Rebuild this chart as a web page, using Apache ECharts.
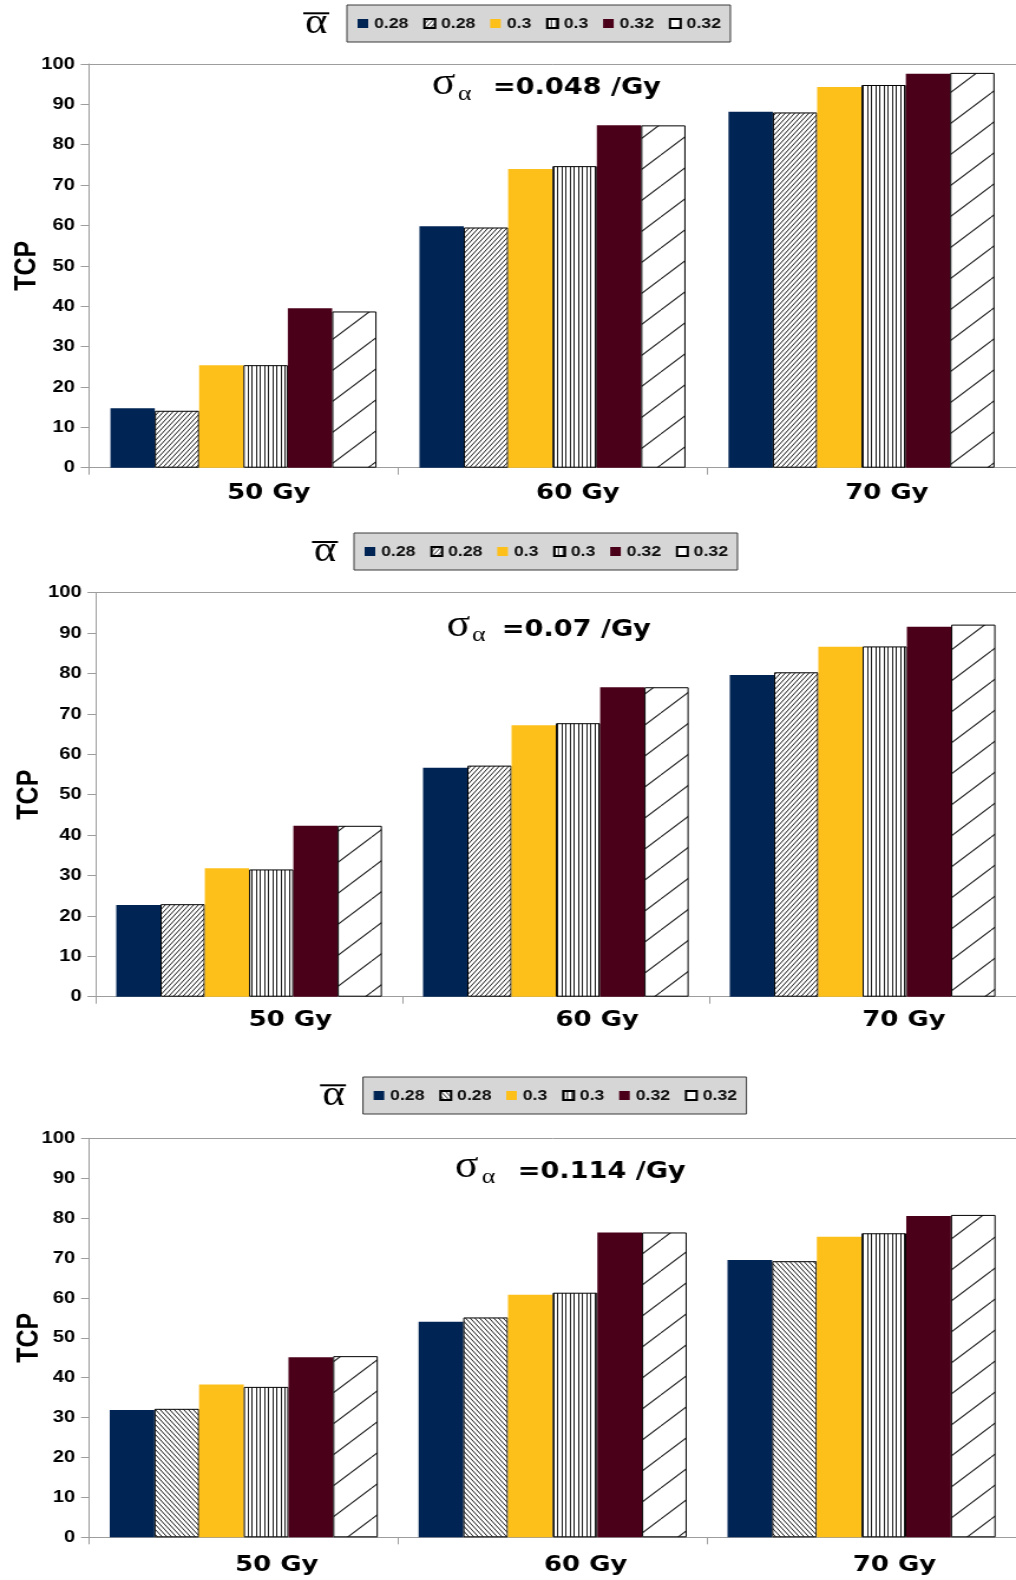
<!DOCTYPE html>
<html>
<head>
<meta charset="utf-8">
<script src="https://cdn.jsdelivr.net/npm/echarts@6/dist/echarts.min.js"></script>
<style>
  html, body { margin: 0; padding: 0; background: #fff; overflow: hidden; }
  /* The figure is drawn at a narrower width and widened horizontally, giving the wide lettering of the original plot. */
  #chart { width: 861px; height: 1580px; transform: scaleX(1.18); transform-origin: 0 0; }
</style>
</head>
<body>
<div id="chart"></div>
<script>
// ---- data ----
const doses = ['50 Gy', '60 Gy', '70 Gy'];
const alphaLabels = ['0.28', '0.28', '0.3', '0.3', '0.32', '0.32'];
const sigmaLabels = ['=0.048 /Gy', '=0.07 /Gy', '=0.114 /Gy'];
const yMin = 0, yMax = 100, yStep = 10;

// TCP (%) per mean-alpha variant (rows) and dose (columns)
const tcpSigma048 = [
  [14.7, 59.8, 88.2],
  [14.1, 59.5, 88.0],
  [25.4, 74.0, 94.3],
  [25.4, 74.7, 94.8],
  [39.5, 84.8, 97.6],
  [38.7, 84.8, 97.8]
];
const tcpSigma070 = [
  [22.7, 56.7, 79.6],
  [22.9, 57.2, 80.3],
  [31.8, 67.2, 86.6],
  [31.5, 67.7, 86.7],
  [42.3, 76.6, 91.6],
  [42.3, 76.6, 92.1]
];
const tcpSigma114 = [
  [31.9, 54.0, 69.5],
  [32.2, 55.1, 69.2],
  [38.3, 60.8, 75.3],
  [37.7, 61.3, 76.2],
  [45.1, 76.4, 80.5],
  [45.4, 76.4, 80.8]
];
const tcpTables = [tcpSigma048, tcpSigma070, tcpSigma114];

// ---- fill patterns ----
function tile(w, h, paint) {
  const c = document.createElement('canvas');
  c.width = w; c.height = h;
  const g = c.getContext('2d');
  g.fillStyle = '#ffffff';
  g.fillRect(0, 0, w, h);
  g.strokeStyle = '#1e1e1e';
  g.fillStyle = '#1e1e1e';
  g.lineWidth = 1;
  paint(g, w, h);
  return { image: c, repeat: 'repeat' };
}
const hatchUp = tile(4, 5, (g, w, h) => {
  for (const dx of [-w, 0, w]) { g.beginPath(); g.moveTo(dx, h); g.lineTo(dx + w, 0); g.stroke(); }
});
const hatchDown = tile(4, 5, (g, w, h) => {
  for (const dx of [-w, 0, w]) { g.beginPath(); g.moveTo(dx, 0); g.lineTo(dx + w, h); g.stroke(); }
});
const vLines = tile(7, 2, (g, w, h) => {
  g.fillRect(0, 0, 1, h);
  g.fillRect(3, 0, 1, h);
});
const wideDiag = tile(35, 31, (g, w, h) => {
  g.lineWidth = 1.1;
  for (const dx of [-w, 0, w]) { g.beginPath(); g.moveTo(dx, h); g.lineTo(dx + w, 0); g.stroke(); }
});

const navy = '#002454', gold = '#fdbf19', maroon = '#4b001a';
function barStyle(k, hatch) {
  const solid = { borderWidth: 0 };
  const outlined = { borderColor: '#000', borderWidth: 1 };
  switch (k) {
    case 0: return Object.assign({ color: navy }, solid);
    case 1: return Object.assign({ color: hatch }, outlined);
    case 2: return Object.assign({ color: gold }, solid);
    case 3: return Object.assign({ color: vLines }, outlined);
    case 4: return Object.assign({ color: maroon }, solid);
    default: return Object.assign({ color: wideDiag }, outlined);
  }
}

// ---- panel layout ----
const panels = [
  { grid: { left: 75.4, right: 0, top: 64, height: 403.7 }, gap: '13.9%', labelPad: 43, labelMargin: 15, nameGap: 39.5,
    legend: { left: 294, top: 5 }, abar: { x: 268, y: 23.1, lineX: 257, lineY: 12.3 },
    title: { sx: 366, ax: 388, tx: 417.8, base: 96.3, aBase: 101.3 }, hatch: hatchUp },
  { grid: { left: 81.1, right: 0, top: 592.7, height: 404 }, gap: '13.4%', labelPad: 70, labelMargin: 12.3, nameGap: 43,
    legend: { left: 300, top: 533 }, abar: { x: 275.4, y: 551.6, lineX: 264.4, lineY: 541 },
    title: { sx: 378.6, ax: 400, tx: 425.3, base: 638.3, aBase: 642.7 }, hatch: hatchUp },
  { grid: { left: 75.7, right: 0, top: 1138.3, height: 399 }, gap: '13.2%', labelPad: 56, labelMargin: 16.7, nameGap: 38,
    legend: { left: 307.6, top: 1077 }, abar: { x: 282.6, y: 1095.6, lineX: 271.2, lineY: 1084.3 },
    title: { sx: 385.4, ax: 408.3, tx: 438.7, base: 1180, aBase: 1185 }, hatch: hatchDown }
];

const axisGray = '#9d9d9d';
const seriesNames = panels.map((p, i) => alphaLabels.map((a, k) => 'panel' + i + ' alpha ' + a + ' #' + k));
const legendText = {};
seriesNames.forEach(list => list.forEach((n, k) => { legendText[n] = alphaLabels[k]; }));

const grids = [], xAxes = [], yAxes = [], legends = [], series = [], graphics = [];

panels.forEach((p, i) => {
  grids.push(Object.assign({ containLabel: false, outerBoundsMode: 'none' }, p.grid));

  // category axis along the bottom
  xAxes.push({
    type: 'category', gridIndex: i, data: doses, position: 'bottom',
    axisLine: { show: true, lineStyle: { color: axisGray, width: 1 } },
    axisTick: { show: true, length: 7, lineStyle: { color: axisGray } },
    axisLabel: {
      margin: p.labelMargin, padding: [0, 0, 0, p.labelPad],
      fontFamily: 'DejaVu Sans', fontWeight: 'bold', fontSize: 22, color: '#000'
    }
  });
  // frame line along the top of the plot
  xAxes.push({
    type: 'category', gridIndex: i, data: doses, position: 'top',
    axisLine: { show: true, lineStyle: { color: axisGray, width: 1 } },
    axisTick: { show: false }, axisLabel: { show: false }
  });

  yAxes.push({
    type: 'value', gridIndex: i, min: yMin, max: yMax, interval: yStep,
    name: 'TCP', nameLocation: 'middle', nameGap: p.nameGap, nameRotate: 90, nameMoveOverlap: false,
    nameTextStyle: { fontFamily: 'Liberation Sans', fontWeight: 'bold', fontSize: 25, color: '#000' },
    axisLine: { show: true, lineStyle: { color: axisGray, width: 1 } },
    axisTick: { show: true, length: 7, lineStyle: { color: axisGray } },
    splitLine: { show: false },
    axisLabel: { margin: 12, fontFamily: 'Liberation Sans', fontWeight: 'bold', fontSize: 17, color: '#000' }
  });

  legends.push({
    left: p.legend.left, top: p.legend.top, orient: 'horizontal',
    data: seriesNames[i], icon: 'rect', itemWidth: 9, itemHeight: 9, itemGap: 12.5,
    padding: [11, 8, 11, 9], backgroundColor: '#d6d6d6', borderColor: '#3a3a3a', borderWidth: 1,
    selectedMode: false,
    textStyle: { fontFamily: 'Liberation Sans', fontWeight: 'bold', fontSize: 15, color: '#111' },
    formatter: name => legendText[name]
  });

  tcpTables[i].forEach((row, k) => {
    series.push({
      type: 'bar', name: seriesNames[i][k], xAxisIndex: 2 * i, yAxisIndex: i,
      data: row, barGap: '0%', barCategoryGap: p.gap,
      itemStyle: barStyle(k, p.hatch),
      emphasis: { disabled: true }, silent: true
    });
  });

  // mean-alpha symbol next to the legend
  graphics.push({
    type: 'text', x: p.abar.x, y: p.abar.y, silent: true,
    style: { text: 'α', font: '36px "Liberation Serif"', fill: '#000', align: 'center', verticalAlign: 'middle' }
  });
  graphics.push({
    type: 'rect', silent: true, shape: { x: p.abar.lineX, y: p.abar.lineY, width: 22, height: 2 },
    style: { fill: '#000' }
  });

  // sigma_alpha caption
  graphics.push({
    type: 'text', x: p.title.sx, y: p.title.base - 0.3375 * 37, silent: true,
    style: { text: 'σ', font: '37px "Liberation Serif"', fill: '#000', align: 'left', verticalAlign: 'middle' }
  });
  graphics.push({
    type: 'text', x: p.title.ax, y: p.title.aBase - 0.3375 * 22, silent: true,
    style: { text: 'α', font: '22px "Liberation Serif"', fill: '#000', align: 'left', verticalAlign: 'middle' }
  });
  graphics.push({
    type: 'text', x: p.title.tx, y: p.title.base - 0.346 * 23, silent: true,
    style: { text: sigmaLabels[i], font: 'bold 23px "DejaVu Sans"', fill: '#000', align: 'left', verticalAlign: 'middle' }
  });
});

const chart = echarts.init(document.getElementById('chart'), null, { renderer: 'canvas' });
chart.setOption({
  animation: false,
  backgroundColor: '#fff',
  grid: grids,
  xAxis: xAxes,
  yAxis: yAxes,
  legend: legends,
  series: series,
  graphic: graphics
});
</script>
</body>
</html>
